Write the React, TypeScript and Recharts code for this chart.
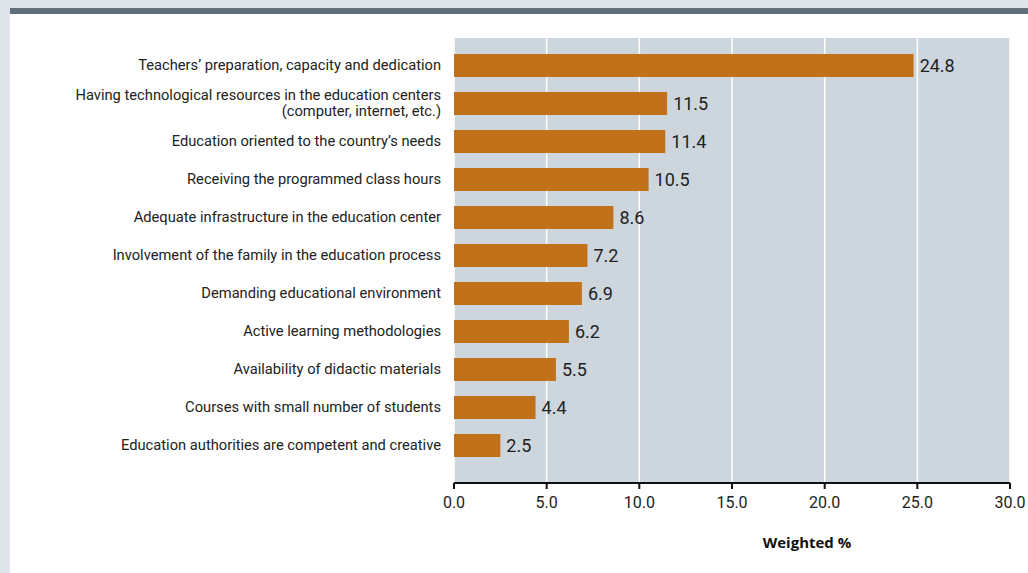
import { Bar, BarChart, CartesianGrid, LabelList, XAxis, YAxis } from "recharts"

const categories = [
  "Teachers’ preparation, capacity and dedication",
  "Having technological resources in the education centers\n(computer, internet, etc.)",
  "Education oriented to the country’s needs",
  "Receiving the programmed class hours",
  "Adequate infrastructure in the education center",
  "Involvement of the family in the education process",
  "Demanding educational environment",
  "Active learning methodologies",
  "Availability of didactic materials",
  "Courses with small number of students",
  "Education authorities are competent and creative",
]

const weighted = [24.8, 11.5, 11.4, 10.5, 8.6, 7.2, 6.9, 6.2, 5.5, 4.4, 2.5]

const xTicks = [0, 5, 10, 15, 20, 25, 30]

const data = categories.map((name, i) => ({ name, value: weighted[i] }))

const FONT = "Roboto, 'Open Sans', sans-serif"
const BAR = "#c0711a"

const CategoryTick = (props: any) => {
  const { x, y, payload } = props
  const lines: string[] = String(payload.value).split("\n")
  const lh = 16
  const start = -((lines.length - 1) * lh) / 2
  return (
    <text x={x} y={y} textAnchor="end" fill="#222" fontSize={14.7} fontFamily={FONT}>
      {lines.map((l, i) => (
        <tspan key={i} x={x} y={y + start + i * lh} dy="0.35em">
          {l}
        </tspan>
      ))}
    </text>
  )
}

export default function App() {
  return (
    <div
      style={{
        position: "absolute",
        left: 0,
        top: 0,
        width: 1028,
        height: 573,
        background: "#dfe5ea",
        overflow: "hidden",
      }}
    >
      <div style={{ position: "absolute", left: 10, top: 8, right: 0, height: 6, background: "#5f6f7c" }} />
      <div style={{ position: "absolute", left: 10, top: 14, right: 0, bottom: 0, background: "#ffffff" }} />
      <div style={{ position: "absolute", left: 0, top: 0 }}>
        <BarChart
          width={1028}
          height={573}
          data={data}
          layout="vertical"
          margin={{ top: 38, right: 18, bottom: 20, left: 0 }}
          barSize={23}
        >
          <CartesianGrid horizontal={false} vertical={true} stroke="#ffffff" strokeWidth={1.5} fill="#cdd5dd" />
          <XAxis
            type="number"
            domain={[0, 30]}
            ticks={xTicks}
            interval={0}
            tickFormatter={(v: number) => v.toFixed(1)}
            axisLine={{ stroke: "#111", strokeWidth: 2 }}
            tickLine={{ stroke: "#111", strokeWidth: 2 }}
            tickSize={6}
            tickMargin={8}
            tick={{ fill: "#222", fontSize: 16, fontFamily: FONT }}
            height={70}
            label={{
              value: "Weighted %",
              position: "insideBottom",
              offset: 5,
              dx: 75,
              fill: "#111",
              fontSize: 15,
              fontWeight: 700,
              fontFamily: "'Open Sans', sans-serif",
            }}
          />
          <XAxis
            xAxisId="top"
            type="number"
            orientation="top"
            domain={[0, 30]}
            tick={false}
            tickLine={false}
            height={0}
            axisLine={{ stroke: "#111", strokeWidth: 2 }}
          />
          <YAxis
            type="category"
            dataKey="name"
            width={454}
            axisLine={false}
            tickLine={false}
            interval={0}
            tickMargin={7}
            tick={<CategoryTick />}
            padding={{ top: 8, bottom: 19 }}
          />
          <Bar dataKey="value" fill={BAR} isAnimationActive={false}>
            <LabelList
              dataKey="value"
              position="right"
              offset={6}
              formatter={(v: any) => Number(v).toFixed(1)}
              fill="#222"
              fontSize={18}
              fontFamily={FONT}
            />
          </Bar>
        </BarChart>
      </div>
    </div>
  )
}
